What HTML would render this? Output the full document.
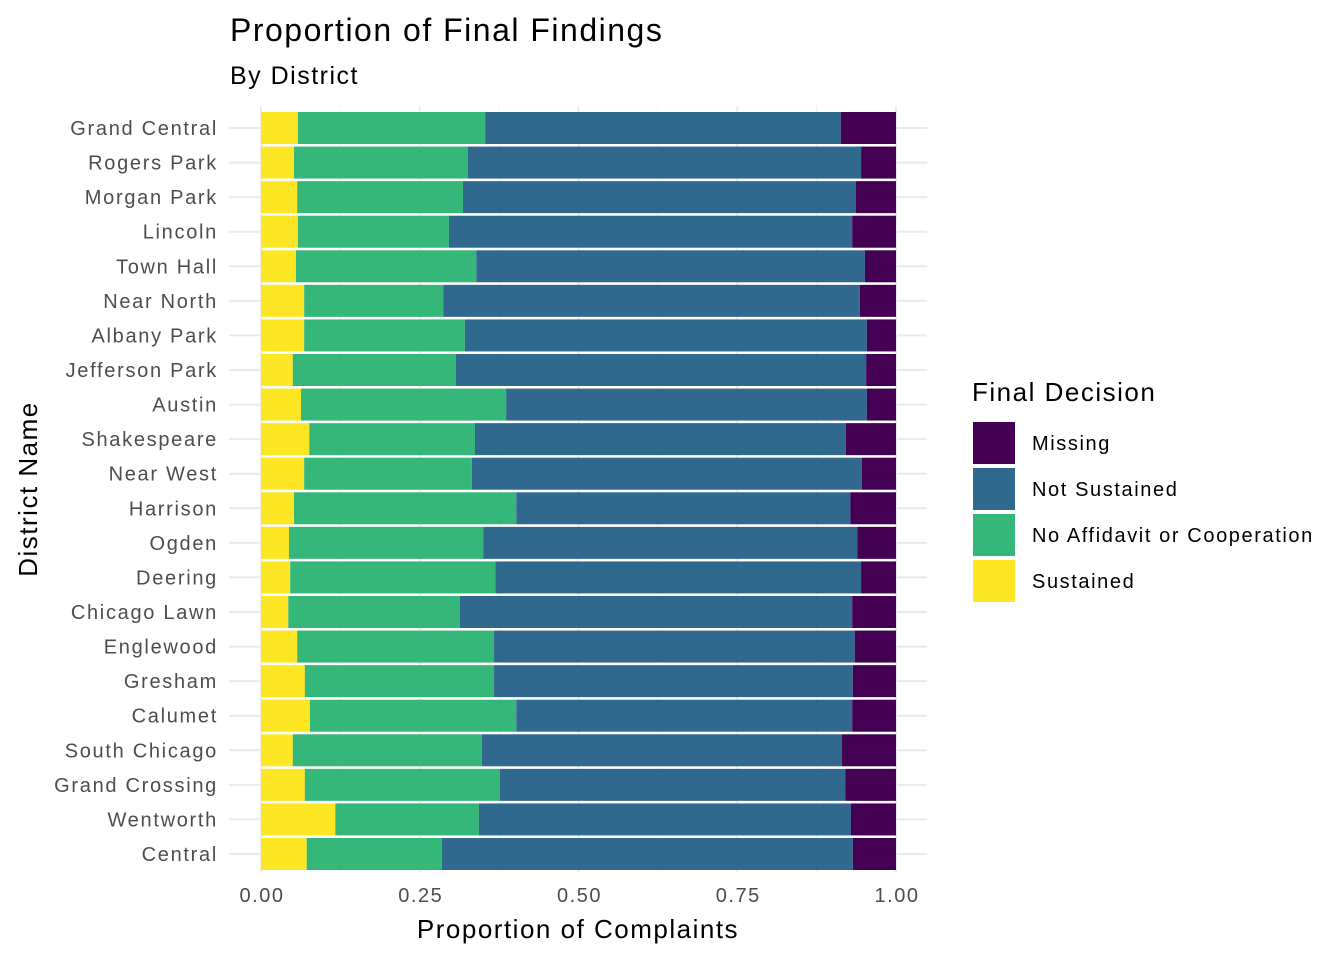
<!DOCTYPE html>
<html><head><meta charset="utf-8"><style>
body{margin:0;background:#fff;font-family:"Liberation Sans",sans-serif}
svg text{font-family:"Liberation Sans",sans-serif;letter-spacing:1.5px}
</style></head><body>
<svg id="c" width="1344" height="960" xmlns="http://www.w3.org/2000/svg">
<text x="230" y="41" font-size="32" fill="#000">Proportion of Final Findings</text>
<text x="230" y="84" font-size="25" fill="#000">By District</text>
<g id="grid"></g><g id="bars"></g><g id="axes"></g>
<text x="578" y="938" font-size="26" text-anchor="middle" fill="#000">Proportion of Complaints</text>
<text transform="translate(37,489) rotate(-90)" font-size="26" text-anchor="middle" fill="#000">District Name</text>
<g id="legend"></g>
</svg>
<script>
const districts=["Grand Central","Rogers Park","Morgan Park","Lincoln","Town Hall","Near North","Albany Park","Jefferson Park","Austin","Shakespeare","Near West","Harrison","Ogden","Deering","Chicago Lawn","Englewood","Gresham","Calumet","South Chicago","Grand Crossing","Wentworth","Central"];
const sustained=[0.058,0.052,0.057,0.058,0.055,0.068,0.068,0.050,0.063,0.076,0.068,0.052,0.044,0.046,0.043,0.057,0.069,0.077,0.050,0.069,0.117,0.072];
const noAffidavit=[0.295,0.274,0.261,0.238,0.284,0.219,0.253,0.257,0.323,0.261,0.264,0.350,0.306,0.323,0.270,0.310,0.298,0.325,0.298,0.307,0.226,0.213];
const notSustained=[0.560,0.619,0.619,0.635,0.612,0.656,0.633,0.646,0.568,0.584,0.614,0.526,0.589,0.576,0.618,0.568,0.565,0.529,0.567,0.544,0.586,0.647];
const missing=[0.087,0.055,0.063,0.069,0.049,0.057,0.046,0.047,0.046,0.079,0.054,0.072,0.061,0.055,0.069,0.065,0.068,0.069,0.085,0.080,0.071,0.068];
const xTicks=[0,0.25,0.5,0.75,1];
const xTickLabels=["0.00","0.25","0.50","0.75","1.00"];
const seriesNames=["Missing","Not Sustained","No Affidavit or Cooperation","Sustained"];
const colors={"Missing":"#440154","Not Sustained":"#31688E","No Affidavit or Cooperation":"#35B779","Sustained":"#FDE725"};
const NS="http://www.w3.org/2000/svg";
const x0=261,x1=896,yTop=128,step=(854-128)/21,bh=32;
const X=v=>x0+v*(x1-x0);
const Y=i=>yTop+i*step;
function mk(t,a,p){const e=document.createElementNS(NS,t);for(const k in a)e.setAttribute(k,a[k]);p.appendChild(e);return e;}
const grid=document.getElementById('grid'),bars=document.getElementById('bars'),axes=document.getElementById('axes'),leg=document.getElementById('legend');
for(let v=0.125;v<1;v+=0.25){const l=mk('line',{x1:X(v),x2:X(v),y1:106,y2:872,stroke:'#f0f0f0','stroke-width':1},grid);

}
xTicks.forEach((v,i)=>{const l=mk('line',{x1:X(v),x2:X(v),y1:106,y2:872,stroke:'#ebebeb','stroke-width':2},grid);


const t=mk('text',{x:X(v)+1,y:902,'font-size':20,'text-anchor':'middle',fill:'#4d4d4d'},axes);t.textContent=xTickLabels[i];

});
districts.forEach((d,i)=>{const y=Y(i);
const g=mk('line',{x1:229,x2:927,y1:y,y2:y,stroke:'#ebebeb','stroke-width':2},grid);


const t=mk('text',{x:218,y:y+7,'font-size':20,'text-anchor':'end',fill:'#4d4d4d',style:'letter-spacing:1.7px'},axes);t.textContent=d;


let c=0;const vals=[["Sustained",sustained[i]],["No Affidavit or Cooperation",noAffidavit[i]],["Not Sustained",notSustained[i]],["Missing",missing[i]]];
vals.forEach(([n,v])=>{const r=mk('rect',{x:X(c),y:y-bh/2,width:X(c+v)-X(c),height:bh,fill:colors[n]},bars);

c+=v;});});
const lt=mk('text',{x:972,y:401,'font-size':26,fill:'#000'},leg);lt.textContent="Final Decision";


seriesNames.forEach((n,i)=>{const y=422+i*46;
const r=mk('rect',{x:973,y:y,width:42,height:42,fill:colors[n]},leg);


const t=mk('text',{x:1032,y:y+28,'font-size':20,fill:'#000',style:'letter-spacing:1.6px'},leg);t.textContent=n;

});
</script>
</body></html>
